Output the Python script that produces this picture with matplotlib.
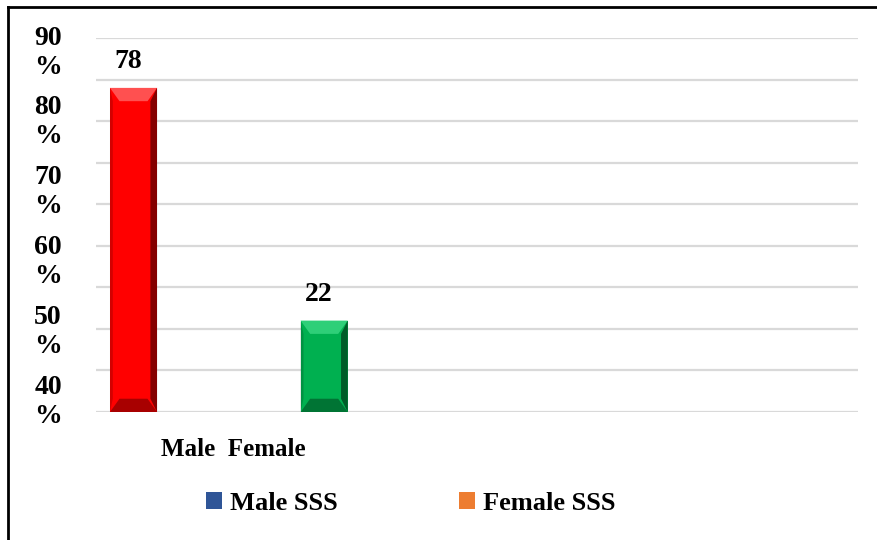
import matplotlib.pyplot as plt
from matplotlib.patches import Polygon, Patch
from matplotlib.lines import Line2D

# data
groups = ['Male', 'Female']
values = [78, 22]
bar_colors = ['#ff0000', '#00b050']
dark_colors = ['#6e0000', '#004d22']
light_colors = ['#ff5050', '#2ecf78']
ytick_text = ['90\n%', '80\n%', '70\n%', '60\n%', '50\n%', '40\n%']
legend_names = ['Male SSS', 'Female SSS']
legend_colors = ['#2f5597', '#ed7d31']

plt.rcParams['font.family'] = 'Liberation Serif'
plt.rcParams['font.weight'] = 'bold'

fig = plt.figure(figsize=(8.78, 5.40), dpi=100)
ax = fig.add_axes([0.1093, 0.237, 0.8679, 0.6926])

x = list(range(len(values)))
width = 0.247
bars = ax.bar(x, values, width=width, color=bar_colors, zorder=3,
              edgecolor='none')

ax.set_xlim(-0.197, 3.80)
ax.set_ylim(0, 90)

# bevel on each bar: lighter top face, darker right side and bottom
bev_x = 0.05
bev_y = 3.2
for b, dk, lt in zip(bars, dark_colors, light_colors):
    x0, w, h = b.get_x(), b.get_width(), b.get_height()
    x1 = x0 + w
    ax.add_patch(Polygon([(x0, h), (x1, h), (x1 - bev_x, h - bev_y),
                          (x0 + bev_x, h - bev_y)], closed=True,
                         color=lt, zorder=4, lw=0))
    ax.add_patch(Polygon([(x1, h), (x1, 0), (x1 - bev_x * 0.7, bev_y),
                          (x1 - bev_x * 0.7, h - bev_y)], closed=True,
                         color=dk, zorder=4, lw=0, alpha=0.85))
    ax.add_patch(Polygon([(x0, 0), (x1, 0), (x1 - bev_x, bev_y),
                          (x0 + bev_x, bev_y)], closed=True,
                         color=dk, zorder=4, lw=0, alpha=0.6))
    ax.add_patch(Polygon([(x0, h), (x0, 0), (x0 + bev_x * 0.3, bev_y),
                          (x0 + bev_x * 0.3, h - bev_y)], closed=True,
                         color=dk, zorder=4, lw=0, alpha=0.3))
    ax.annotate(str(int(h)), (b.get_x() + w / 2 - 0.03, h),
                xytext=(0, 10), textcoords='offset points',
                ha='center', va='bottom', fontsize=20, fontweight='bold')

# gridlines
ax.set_yticks(range(0, 91, 10))
ax.yaxis.grid(True, color='#d9d9d9', linewidth=1.6, zorder=0)
ax.set_yticklabels([])
ax.tick_params(left=False, bottom=False)
ax.set_xticks([])
for s in ax.spines.values():
    s.set_visible(False)

# y labels, wrapped onto two lines
label_y = [53, 122, 192, 262, 332, 402]
for t, py in zip(ytick_text, label_y):
    fig.text(48 / 878, 1 - py / 540, t, ha='center', va='center',
             fontsize=20, fontweight='bold', linespacing=1.25)

fig.text(233 / 878, 1 - 450 / 540, 'Male  Female', ha='center',
         va='center', fontsize=18, fontweight='bold')

handles = [Patch(facecolor=c, edgecolor='none') for c in legend_colors]
fig.legend(handles, legend_names, loc='center', ncol=2,
           bbox_to_anchor=(411 / 878, 1 - 503 / 540), frameon=False,
           prop={'size': 19, 'weight': 'bold'}, handlelength=0.6,
           handleheight=0.6, handletextpad=0.3, columnspacing=4.6)

# frame on the left and top of the figure
fig.add_artist(Line2D([8 / 878, 8 / 878], [0, 1 - 7 / 540], color='black',
                      lw=2, transform=fig.transFigure))
fig.add_artist(Line2D([8 / 878, 1], [1 - 7 / 540, 1 - 7 / 540],
                      color='black', lw=2, transform=fig.transFigure))

fig.savefig('out.png', dpi=100)
